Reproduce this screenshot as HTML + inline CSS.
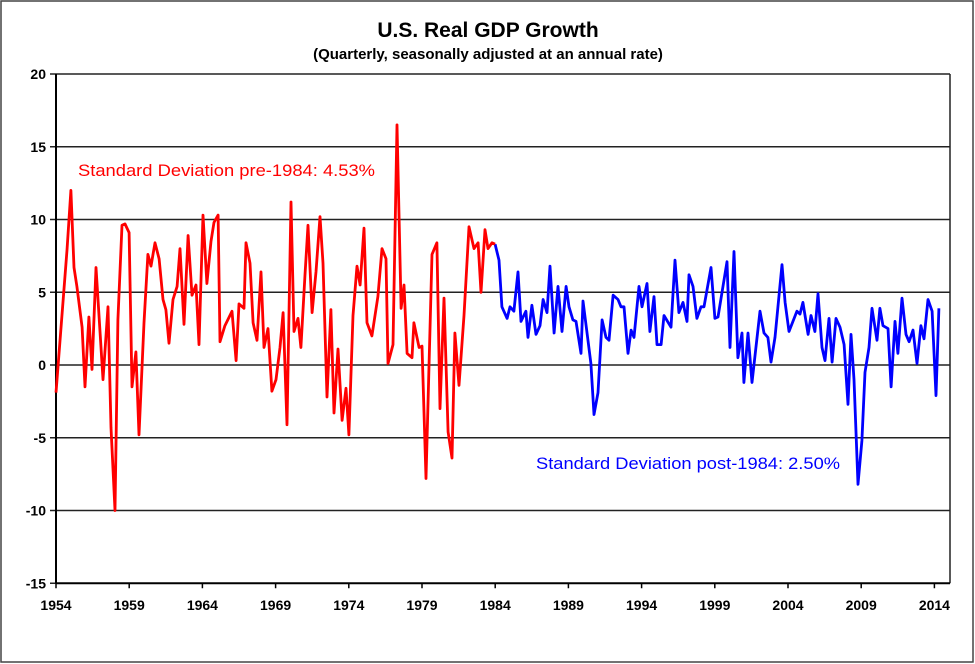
<!DOCTYPE html>
<html><head><meta charset="utf-8"><style>
body{margin:0;background:#fff;}
svg{display:block;font-family:"Liberation Sans",Arial,sans-serif;}
</style></head><body>
<svg id="chart" width="975" height="664" viewBox="0 0 975 664">
<rect x="1" y="1" width="972" height="661" fill="#fff" stroke="#444" stroke-width="1.5"/>
<text x="488" y="37" text-anchor="middle" font-size="21" font-weight="bold">U.S. Real GDP Growth</text>
<text x="488" y="59" text-anchor="middle" font-size="15" font-weight="bold">(Quarterly, seasonally adjusted at an annual rate)</text>
<g id="grid"></g>
<g id="series"></g>
<text x="78" y="176" font-size="17" fill="#ff0000" textLength="297" lengthAdjust="spacingAndGlyphs">Standard Deviation pre-1984: 4.53%</text>
<text x="536" y="469" font-size="17" fill="#0000ff" textLength="304" lengthAdjust="spacingAndGlyphs">Standard Deviation post-1984: 2.50%</text>
</svg>
<script>
// time in years since 1954
const redT = [0.00,0.75,1.02,1.23,1.43,1.78,1.98,2.25,2.46,2.73,3.01,3.21,3.55,3.76,4.03,4.23,4.51,4.71,4.99,5.19,5.46,5.67,6.01,6.28,6.49,6.76,7.04,7.31,7.51,7.72,7.99,8.27,8.47,8.74,9.02,9.29,9.56,9.77,10.04,10.31,10.59,10.79,11.07,11.20,11.54,12.02,12.30,12.50,12.84,12.98,13.25,13.46,13.73,14.00,14.21,14.48,14.75,15.03,15.30,15.51,15.78,16.05,16.26,16.53,16.73,17.01,17.21,17.49,17.76,18.03,18.24,18.51,18.78,18.99,19.26,19.54,19.81,20.01,20.29,20.56,20.77,21.04,21.24,21.58,21.99,22.27,22.54,22.68,23.02,23.29,23.57,23.77,23.98,24.32,24.45,24.80,25.00,25.27,25.68,26.02,26.23,26.50,26.78,27.05,27.25,27.53,27.87,28.21,28.55,28.83,29.03,29.30,29.51,29.78,29.99];
const redV = [-1.9,7.9,12.0,6.7,5.4,2.6,-1.5,3.3,-0.3,6.7,2.2,-1.0,4.0,-4.3,-10,3.1,9.6,9.7,9.1,-1.5,0.9,-4.8,2.9,7.6,6.8,8.4,7.3,4.5,3.8,1.5,4.5,5.4,8.0,2.8,8.9,4.8,5.5,1.4,10.3,5.6,8.5,9.8,10.3,1.6,2.7,3.7,0.3,4.2,3.9,8.4,7.0,2.9,1.7,6.4,1.2,2.5,-1.8,-1.0,1.2,3.6,-4.1,11.2,2.3,3.2,1.2,6.2,9.6,3.6,6.4,10.2,7.0,-2.2,3.8,-3.3,1.1,-3.8,-1.6,-4.8,3.4,6.8,5.5,9.4,2.9,2.0,4.7,8.0,7.3,0.1,1.4,16.5,3.9,5.5,0.8,0.5,2.9,1.2,1.3,-7.8,7.6,8.4,-3.0,4.6,-4.6,-6.4,2.2,-1.4,3.4,9.5,8.0,8.4,5.0,9.3,8.0,8.4,8.3];
const blueT = [30.26,30.46,30.81,31.01,31.28,31.56,31.76,32.10,32.24,32.51,32.79,33.06,33.27,33.54,33.74,34.02,34.29,34.56,34.84,35.04,35.31,35.52,35.86,36.00,36.54,36.75,37.02,37.30,37.57,37.77,38.05,38.39,38.59,38.80,39.07,39.28,39.48,39.82,40.03,40.37,40.57,40.85,41.05,41.33,41.53,42.01,42.28,42.55,42.83,43.10,43.24,43.51,43.78,44.06,44.26,44.74,45.01,45.22,45.83,46.04,46.31,46.58,46.86,46.99,47.27,47.54,48.09,48.36,48.63,48.84,49.11,49.59,49.80,50.07,50.61,50.82,51.02,51.37,51.57,51.84,52.05,52.32,52.53,52.80,53.01,53.28,53.55,53.83,54.10,54.30,54.51,54.78,55.05,55.26,55.53,55.74,56.08,56.28,56.49,56.83,57.04,57.31,57.51,57.79,58.06,58.27,58.54,58.81,59.08,59.29,59.56,59.84,60.11,60.31];
const blueV = [7.2,4.0,3.2,4.0,3.7,6.4,3.0,3.7,1.9,4.1,2.1,2.7,4.5,3.6,6.8,2.2,5.4,2.3,5.4,4.0,3.1,3.0,0.8,4.4,0.1,-3.4,-1.9,3.1,1.9,1.7,4.8,4.5,4.0,4.0,0.8,2.4,1.9,5.4,4.0,5.6,2.3,4.7,1.4,1.4,3.4,2.6,7.2,3.6,4.3,3.0,6.2,5.4,3.2,4.0,4.0,6.7,3.2,3.3,7.1,1.2,7.8,0.5,2.2,-1.2,2.2,-1.2,3.7,2.2,1.9,0.2,1.9,6.9,4.3,2.3,3.7,3.5,4.3,2.1,3.4,2.3,4.9,1.2,0.3,3.2,0.2,3.2,2.6,1.4,-2.7,2.1,-1.0,-8.2,-5.2,-0.5,1.2,3.9,1.7,3.9,2.7,2.5,-1.5,3.0,0.8,4.6,2.1,1.6,2.4,0.1,2.7,1.8,4.5,3.7,-2.1,3.9];
const yTicks = [20,15,10,5,0,-5,-10,-15];
const xTickLabels = ["1954","1959","1964","1969","1974","1979","1984","1989","1994","1999","2004","2009","2014"];

const NS = "http://www.w3.org/2000/svg";
const X0 = 56, XR = 950, PXY = 14.64;
function xs(t){ return X0 + t * PXY; }
function ys(v){ return 365 - v * 14.55; }
function mk(tag, attrs, parent){
  const e = document.createElementNS(NS, tag);
  for (const k in attrs) e.setAttribute(k, attrs[k]);
  parent.appendChild(e);
  return e;
}
const grid = document.getElementById('grid');
yTicks.forEach(v => {
  const g = mk('line', {x1:X0-6, x2:XR, y1:ys(v), y2:ys(v), stroke: '#222', 'stroke-width': 1.5}, grid);
  
  
  const t = mk('text', {x:46, y:ys(v)+5, 'text-anchor':'end', 'font-size':14, 'font-weight':'bold'}, grid);
  t.textContent = v;
  
  
});
const ya = mk('line', {x1:X0, x2:X0, y1:ys(20), y2:ys(-15), stroke:'#000', 'stroke-width':2}, grid);


const rb = mk('line', {x1:XR, x2:XR, y1:ys(20), y2:ys(-15), stroke:'#222', 'stroke-width':1.5}, grid);


const xa = mk('line', {x1:X0, x2:XR, y1:ys(-15), y2:ys(-15), stroke:'#000', 'stroke-width':2}, grid);


xTickLabels.forEach(lbl => {
  const t0 = parseInt(lbl) - 1954;
  const tk = mk('line', {x1:xs(t0), x2:xs(t0), y1:ys(-15), y2:ys(-15)+5, stroke:'#000', 'stroke-width':1.5}, grid);
  
  
  const t = mk('text', {x:xs(t0), y:610, 'text-anchor':'middle', 'font-size':14, 'font-weight':'bold'}, grid);
  t.textContent = lbl;
  
  
});
const series = document.getElementById('series');
function pathOf(T, V){ return T.map((t,i) => (i ? 'L' : 'M') + xs(t).toFixed(1) + ' ' + ys(V[i]).toFixed(1)).join(' '); }
const bT = [redT[redT.length-1]].concat(blueT);
const bV = [redV[redV.length-1]].concat(blueV);
const bp = mk('path', {d: pathOf(bT, bV), fill:'none', stroke:'#0000ff', 'stroke-width':2.8, 'stroke-linejoin':'round'}, series);


const rp = mk('path', {d: pathOf(redT, redV), fill:'none', stroke:'#ff0000', 'stroke-width':2.8, 'stroke-linejoin':'round'}, series);


</script>
</body></html>
